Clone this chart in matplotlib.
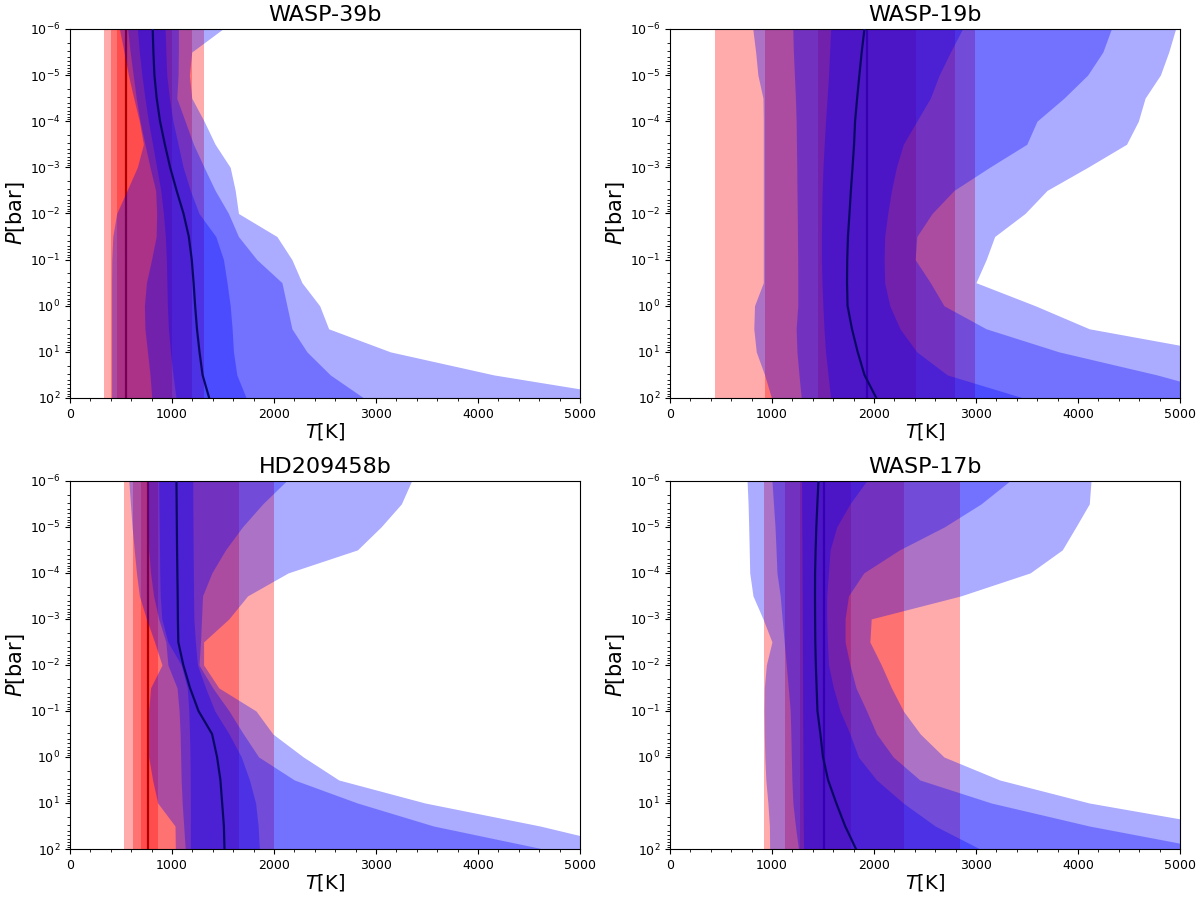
import matplotlib
matplotlib.use('Agg')
import matplotlib.pyplot as plt
import numpy as np

# pressure grid of the retrieved profiles [bar], half-decade steps
pressure = np.logspace(-6, 2, 17)

# isothermal fits: 3s lo, 2s lo, 1s lo, median, 1s hi, 2s hi, 3s hi  [K]
iso_wasp39b = [334, 403, 458, 547, 998, 1194, 1315]
iso_wasp19b = [441, 928, 1452, 1930, 2411, 2795, 2994]
iso_hd209458b = [534, 616, 700, 762, 863, 1658, 2000]
iso_wasp17b = [919, 1130, 1270, 1515, 1772, 2293, 2840]

# free T-P profiles (top of atmosphere -> 100 bar)
med_wasp39b = [811, 818, 828, 850, 883, 930, 982, 1045, 1113, 1165, 1194, 1212, 1227, 1245, 1270, 1300, 1365]
lo1_wasp39b = [661, 680, 705, 735, 769, 810, 850, 890, 916, 935, 945, 950, 955, 965, 985, 1010, 1040]
hi1_wasp39b = [933, 940, 949, 975, 1010, 1060, 1110, 1180, 1265, 1430, 1505, 1540, 1571, 1590, 1603, 1636, 1728]
lo2_wasp39b = [566, 590, 620, 650, 687, 735, 785, 840, 850, 845, 800, 750, 730, 735, 760, 785, 802]
hi2_wasp39b = [1063, 1063, 1060, 1047, 1129, 1211, 1315, 1423, 1554, 1652, 1832, 2078, 2127, 2176, 2323, 2552, 2880]
lo3_wasp39b = [485, 530, 573, 625, 680, 720, 660, 560, 458, 420, 410, 408, 408, 408, 408, 408, 408]
hi3_wasp39b = [1499, 1194, 1171, 1194, 1315, 1423, 1571, 1620, 1652, 2029, 2176, 2274, 2448, 2536, 3141, 4156, 5550]

med_wasp19b = [1907, 1880, 1857, 1835, 1815, 1805, 1790, 1774, 1760, 1745, 1738, 1736, 1741, 1784, 1840, 1907, 2023]
lo1_wasp19b = [1575, 1565, 1555, 1540, 1525, 1512, 1500, 1492, 1488, 1485, 1485, 1490, 1499, 1510, 1525, 1550, 1575]
hi1_wasp19b = [2868, 2750, 2640, 2553, 2420, 2288, 2220, 2172, 2135, 2105, 2100, 2105, 2155, 2255, 2420, 2719, 3465]
lo2_wasp19b = [1204, 1210, 1220, 1230, 1237, 1240, 1243, 1245, 1248, 1250, 1252, 1253, 1253, 1237, 1245, 1265, 1287]
hi2_wasp19b = [4327, 4244, 4095, 3863, 3598, 3498, 3133, 2785, 2570, 2420, 2404, 2553, 2686, 3100, 3813, 4775, 5600]
lo3_wasp19b = [812, 840, 862, 912, 915, 915, 915, 915, 915, 915, 915, 915, 829, 822, 846, 928, 995]
hi3_wasp19b = [4957, 4890, 4808, 4658, 4592, 4476, 4095, 3697, 3481, 3183, 3100, 3000, 3581, 4111, 5355, 6500, 7500]

med_hd209458b = [1044, 1046, 1048, 1050, 1053, 1056, 1058, 1062, 1111, 1177, 1260, 1393, 1442, 1475, 1492, 1509, 1515]
lo1_hd209458b = [870, 872, 875, 878, 880, 885, 900, 960, 1090, 1150, 1165, 1172, 1177, 1179, 1180, 1180, 1180]
hi1_hd209458b = [1204, 1205, 1206, 1208, 1210, 1212, 1215, 1230, 1250, 1330, 1420, 1560, 1680, 1760, 1820, 1845, 1857]
lo2_hd209458b = [762, 764, 767, 772, 790, 820, 870, 940, 960, 1050, 1070, 1080, 1085, 1090, 1100, 1115, 1130]
hi2_hd209458b = [2122, 1890, 1691, 1525, 1391, 1300, 1290, 1280, 1265, 1400, 1560, 1700, 1850, 2200, 2818, 3564, 4642]
lo3_hd209458b = [577, 593, 609, 630, 652, 680, 750, 829, 902, 790, 772, 772, 772, 810, 860, 1030, 1033]
hi3_hd209458b = [3349, 3249, 3050, 2818, 2139, 1741, 1558, 1310, 1310, 1460, 1824, 1989, 2288, 2636, 3481, 4609, 5550]

med_wasp17b = [1456, 1445, 1435, 1428, 1423, 1422, 1423, 1425, 1430, 1438, 1446, 1475, 1500, 1550, 1630, 1717, 1824]
lo1_wasp17b = [1290, 1291, 1292, 1294, 1295, 1296, 1297, 1298, 1299, 1300, 1301, 1302, 1303, 1304, 1305, 1307, 1310]
hi1_wasp17b = [1928, 1765, 1635, 1570, 1554, 1537, 1537, 1544, 1554, 1603, 1668, 1765, 1847, 2026, 2287, 2600, 3040]
lo2_wasp17b = [1000, 1015, 1030, 1040, 1049, 1081, 1100, 1120, 1140, 1160, 1179, 1185, 1190, 1195, 1205, 1230, 1260]
hi2_wasp17b = [3332, 3050, 2690, 2250, 1900, 1750, 1717, 1717, 1765, 1824, 1928, 2026, 2189, 2450, 3150, 4111, 5300]
lo3_wasp17b = [756, 766, 772, 777, 782, 814, 912, 1000, 945, 925, 922, 925, 930, 940, 960, 975, 977]
hi3_wasp17b = [4128, 4111, 3980, 3846, 3531, 2851, 1973, 1960, 2072, 2172, 2288, 2454, 2686, 3233, 4111, 5400, 6500]

planets = ['WASP-39b', 'WASP-19b', 'HD209458b', 'WASP-17b']
iso = [iso_wasp39b, iso_wasp19b, iso_hd209458b, iso_wasp17b]
med = [med_wasp39b, med_wasp19b, med_hd209458b, med_wasp17b]
lo1 = [lo1_wasp39b, lo1_wasp19b, lo1_hd209458b, lo1_wasp17b]
hi1 = [hi1_wasp39b, hi1_wasp19b, hi1_hd209458b, hi1_wasp17b]
lo2 = [lo2_wasp39b, lo2_wasp19b, lo2_hd209458b, lo2_wasp17b]
hi2 = [hi2_wasp39b, hi2_wasp19b, hi2_hd209458b, hi2_wasp17b]
lo3 = [lo3_wasp39b, lo3_wasp19b, lo3_hd209458b, lo3_wasp17b]
hi3 = [hi3_wasp39b, hi3_wasp19b, hi3_hd209458b, hi3_wasp17b]

fig = plt.figure(figsize=(12, 8.99), dpi=100)
# axes boxes in figure fraction: left, bottom, width, height
boxes = [[0.0583, 0.5573, 0.425, 0.4105],
         [0.5583, 0.5573, 0.425, 0.4105],
         [0.0583, 0.0556, 0.425, 0.4095],
         [0.5583, 0.0556, 0.425, 0.4095]]

alpha = 0.33
for i in range(4):
    ax = fig.add_axes(boxes[i])
    s = iso[i]

    # isothermal median sits under the shading so it gets tinted
    ax.axvline(s[3], color='black', lw=1.6, zorder=0.5)

    # isothermal confidence bands
    for lo, hi in [(s[0], s[6]), (s[1], s[5]), (s[2], s[4])]:
        ax.axvspan(lo, hi, color='red', alpha=alpha, lw=0, zorder=1)

    # free-profile confidence bands
    for lo, hi in [(lo3[i], hi3[i]), (lo2[i], hi2[i]), (lo1[i], hi1[i])]:
        ax.fill_betweenx(pressure, lo, hi, color='blue', alpha=alpha, lw=0, zorder=1)

    ax.plot(med[i], pressure, color='#0a0a66', lw=1.6, zorder=3)

    ax.set_yscale('log')
    ax.set_ylim(1e2, 1e-6)
    ax.set_xlim(0, 5000)
    ax.set_xticks(np.arange(0, 5001, 1000))
    ax.xaxis.set_minor_locator(plt.MultipleLocator(200))
    ax.yaxis.set_major_locator(matplotlib.ticker.LogLocator(base=10, numticks=20))
    ax.yaxis.set_minor_locator(matplotlib.ticker.LogLocator(base=10, subs=np.arange(2, 10), numticks=20))
    ax.tick_params(axis='both', which='major', labelsize=9)

    ax.set_title(planets[i], fontsize=16)
    ax.set_xlabel(r'$T$[K]', fontsize=14, labelpad=0)
    ax.set_ylabel(r'$P$[bar]', fontsize=15, labelpad=2)

fig.savefig('out.png', dpi=100)
